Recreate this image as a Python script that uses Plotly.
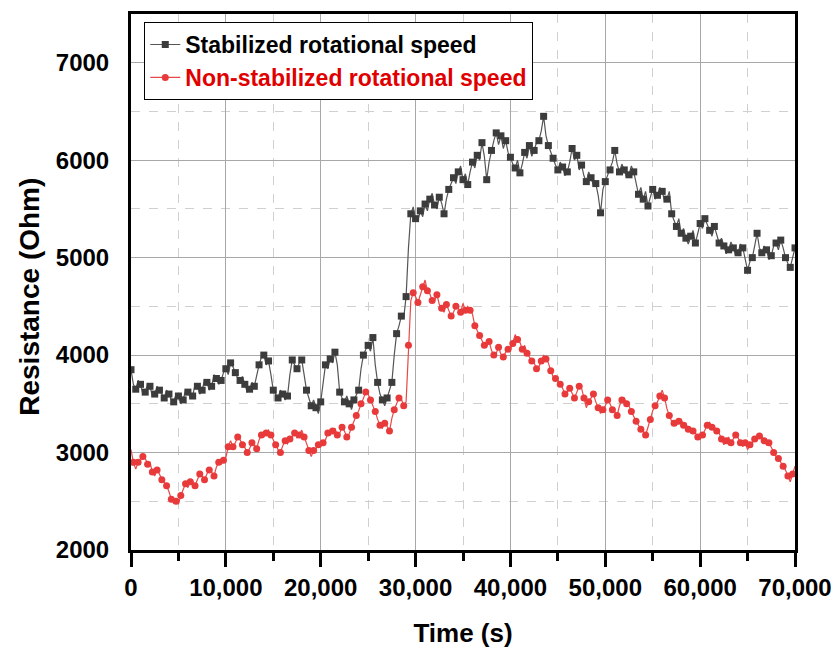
import plotly.graph_objects as go

# Time axis (s), sampled every 250 s
time_s = [i * 250 for i in range(281)]

stabilized = [
    3850, 3700, 3650, 3740, 3700, 3600, 3620, 3700, 3680, 3580, 3600, 3680, 3640, 3600, 3560, 3640, 3600, 3540, 3520, 3600,
    3580, 3500, 3540, 3640, 3620, 3560, 3580, 3700, 3680, 3600, 3640, 3740, 3720, 3640, 3680, 3800, 3760, 3700, 3740, 3820,
    3860, 3800, 3920, 3880, 3820, 3760, 3740, 3780, 3700, 3620, 3650, 3720, 3680, 3800, 3900, 3980, 4000, 3900, 3940, 3800,
    3640, 3600, 3560, 3640, 3600, 3540, 3580, 3800, 3950, 3900, 3860, 3920, 3950, 3800, 3640, 3560, 3480, 3540, 3460, 3400,
    3520, 3700, 3900, 3860, 3960, 3920, 4030, 3900, 3620, 3560, 3520, 3580, 3500, 3440, 3540, 3600, 3640, 3860, 4000, 4060,
    4100, 4040, 4180, 3900, 3720, 3600, 3540, 3480, 3560, 3640, 3720, 4000, 4220, 4300, 4400, 4380, 4600, 5100, 5450, 5520,
    5400, 5380, 5480, 5420, 5550, 5480, 5600, 5660, 5540, 5500, 5620, 5560, 5450, 5600, 5700, 5760, 5820, 5760, 5880, 5940,
    5800, 5860, 5750, 5880, 5980, 5920, 6050, 6000, 6180, 6040, 5800, 5980, 6100, 6200, 6280, 6160, 6250, 6120, 6200, 6080,
    6030, 5960, 5920, 6000, 5870, 5960, 6080, 6020, 6150, 6040, 6100, 6180, 6200, 6300, 6450, 6250, 6150, 6080, 6020, 5950,
    5900, 5980, 5930, 5840, 5880, 5980, 6120, 6000, 6050, 5900, 5950, 5840, 5780, 5880, 5820, 5740, 5760, 5640, 5460, 5700,
    5780, 5840, 5900, 5980, 6100, 5960, 5880, 5960, 5900, 5820, 5850, 5940, 5880, 5760, 5650, 5720, 5600, 5680, 5530, 5620,
    5700, 5600, 5640, 5720, 5680, 5580, 5600, 5680, 5450, 5380, 5320, 5400, 5250, 5300, 5200, 5140, 5220, 5280, 5150, 5250,
    5350, 5300, 5400, 5340, 5280, 5220, 5320, 5240, 5150, 5200, 5120, 5040, 5080, 5160, 5100, 5020, 5050, 5140, 5100, 4980,
    4870, 4960, 5000, 5120, 5250, 5100, 5050, 5120, 5080, 4980, 5020, 5120, 5150, 5080, 5180, 5100, 5000, 4940, 4900, 5000,
    5100,
]

non_stabilized = [
    3030, 2900, 2830, 2900, 2920, 2960, 2940, 2880, 2900, 2800, 2760, 2820, 2780, 2720, 2700, 2660, 2600, 2520, 2480, 2500,
    2470, 2560, 2620, 2680, 2640, 2700, 2700, 2660, 2720, 2780, 2760, 2720, 2780, 2820, 2800, 2760, 2850, 2900, 2880, 2920,
    2950, 3060, 3120, 3060, 3100, 3160, 3130, 3080, 3050, 3000, 3040, 3100, 3080, 3040, 3130, 3180, 3160, 3200, 3230, 3180,
    3120, 3080, 3030, 3000, 3070, 3120, 3090, 3140, 3160, 3200, 3150, 3180, 3230, 3160, 3100, 3020, 2960, 3020, 3040, 3080,
    3060, 3100, 3130, 3200, 3180, 3220, 3250, 3180, 3200, 3260, 3220, 3160, 3190, 3260, 3330, 3380, 3430, 3500, 3560, 3620,
    3600, 3540, 3500, 3420, 3340, 3280, 3250, 3300, 3270, 3220, 3350, 3440, 3500, 3560, 3550, 3480, 3520, 4100, 4560, 4640,
    4600, 4540, 4620, 4700, 4770, 4660, 4630, 4560, 4560, 4620, 4520, 4480, 4440, 4520, 4460, 4400, 4440, 4500, 4480, 4440,
    4530, 4460, 4500, 4460, 4420, 4300, 4240, 4200, 4150, 4100, 4090, 4140, 4050, 4000, 4020, 4080, 4010, 3980, 4030, 4060,
    4050, 4120, 4210, 4160, 4130, 4060, 4100, 4020, 3980, 3940, 3920, 3860, 3880, 3940, 4000, 3960, 3920, 3840, 3780, 3760,
    3740, 3700, 3660, 3600, 3620, 3660, 3600, 3560, 3620, 3680, 3660, 3560, 3460, 3520, 3560, 3600, 3520, 3460, 3400, 3440,
    3480, 3540, 3500, 3440, 3420, 3380, 3480, 3540, 3560, 3500, 3480, 3420, 3360, 3320, 3280, 3240, 3220, 3180, 3260, 3340,
    3430, 3480, 3520, 3580, 3640, 3560, 3450, 3380, 3320, 3300, 3280, 3320, 3340, 3280, 3300, 3240, 3250, 3220, 3200, 3160,
    3140, 3180, 3230, 3280, 3310, 3260, 3250, 3220, 3200, 3140, 3080, 3120, 3160, 3100, 3140, 3180, 3150, 3100, 3060, 3100,
    3030, 3080, 3100, 3140, 3130, 3170, 3170, 3120, 3080, 3100, 3050, 3000, 2960, 2940, 2900, 2860, 2820, 2760, 2700, 2780,
    2860,
]

x_ticks = [0, 10000, 20000, 30000, 40000, 50000, 60000, 70000]
x_tick_labels = ["0", "10,000", "20,000", "30,000", "40,000", "50,000", "60,000", "70,000"]
y_ticks = [2000, 3000, 4000, 5000, 6000, 7000]

FONT = "Liberation Sans, Arial, sans-serif"

fig = go.Figure()
fig.add_trace(go.Scatter(
    x=time_s, y=stabilized, mode="lines+markers",
    name="Stabilized rotational speed",
    line=dict(color="#555555", width=1.2),
    marker=dict(symbol="square", size=7, color="#3c3c3c", maxdisplayed=141),
))
fig.add_trace(go.Scatter(
    x=time_s, y=non_stabilized, mode="lines+markers",
    name="<span style='color:#e00000'>Non-stabilized rotational speed</span>",
    line=dict(color="#e84848", width=1.2),
    marker=dict(symbol="circle", size=7, color="#e83a3a", maxdisplayed=141),
))

fig.update_layout(
    width=840, height=648,
    margin=dict(l=131, r=45, t=14, b=98, autoexpand=False),
    paper_bgcolor="white", plot_bgcolor="white",
    font=dict(family=FONT, color="black"),
    legend=dict(
        x=0.02, y=0.985, xanchor="left", yanchor="top",
        bordercolor="black", borderwidth=1, bgcolor="white",
        font=dict(family=FONT, size=23, color="black", weight="bold"),
        tracegroupgap=0,
    ),
    showlegend=True,
    annotations=[dict(
        text="Resistance (Ohm)", textangle=-90, showarrow=False,
        xref="paper", yref="paper", x=-0.154, y=0.472,
        xanchor="center", yanchor="middle",
        font=dict(family=FONT, size=28, color="black", weight="bold"),
    )],
)

fig.update_xaxes(
    range=[0, 70000], tickvals=x_ticks, ticktext=x_tick_labels,
    showline=True, linewidth=3, linecolor="black", mirror=True,
    ticks="outside", ticklen=14, tickwidth=3, tickcolor="black",
    showgrid=True, gridcolor="#a8a8a8", gridwidth=1, zeroline=False,
    minor=dict(dtick=5000, tick0=0, showgrid=True, gridcolor="#d0d0d0",
               griddash="dash", gridwidth=1, ticks="outside", ticklen=8,
               tickwidth=3, tickcolor="black"),
    tickfont=dict(family=FONT, size=24, color="black", weight="bold"),
    automargin=False,
    title=dict(text="Time (s)", font=dict(family=FONT, size=26, color="black", weight="bold"), standoff=28),
)
fig.update_yaxes(
    range=[2000, 7500], tickvals=y_ticks,
    showline=True, linewidth=3, linecolor="black", mirror=True,
    ticks="", ticklabelstandoff=14,
    showgrid=True, gridcolor="#a8a8a8", gridwidth=1, zeroline=False,
    minor=dict(dtick=500, tick0=2000, showgrid=True, gridcolor="#d0d0d0",
               griddash="dash", gridwidth=1),
    tickfont=dict(family=FONT, size=24, color="black", weight="bold"),
    automargin=False,
)

fig.write_html("out.html")
